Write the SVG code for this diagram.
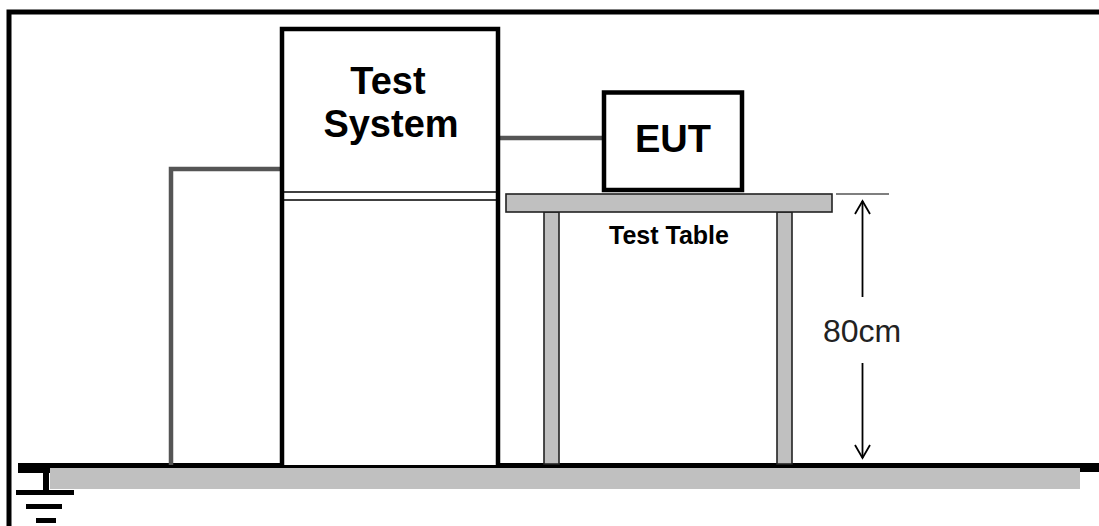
<svg xmlns="http://www.w3.org/2000/svg" width="1099" height="526" viewBox="0 0 1099 526">
<style>
.frame{fill:none;stroke:#000;stroke-width:5}
.box{fill:#fff;stroke:#000;stroke-width:4.5}
.wire{fill:none;stroke:#555;stroke-width:4.5}
.table{fill:#c0c0c0;stroke:#222;stroke-width:1.6}
.thin{fill:none;stroke:#000;stroke-width:1.5}
.arrow{fill:none;stroke:#000;stroke-width:1.8}
.big{font-family:"Liberation Sans",Arial,sans-serif;font-weight:bold;fill:#000;text-anchor:middle}
.dim{font-family:"Liberation Sans",Arial,sans-serif;fill:#222;text-anchor:middle}
</style>
<rect width="1099" height="526" fill="#fff"/>
<g id="frame">
<path class="frame" d="M9,526 V12 H1099"/>
</g>
<g id="ground">
<rect x="18" y="463" width="1081" height="9" fill="#000"/>
<rect x="18" y="463" width="32" height="10" fill="#000"/>
<rect x="50" y="468" width="1030" height="21" fill="#c0c0c0"/>
<rect x="43" y="464" width="6" height="28" fill="#000"/>
<rect x="16" y="490" width="58" height="5" fill="#000"/>
<rect x="26" y="504" width="36" height="5" fill="#000"/>
<rect x="36" y="518" width="20" height="5" fill="#000"/>
</g>
<g id="connectors">
<path class="wire" d="M171,465 V169 H282"/>
<path class="wire" d="M498,138 H604"/>
</g>
<g id="test-system">
<path class="box" d="M282,465 V29 H498 V465"/>
<line class="thin" x1="284" y1="192" x2="496" y2="192"/>
<line class="thin" x1="284" y1="200" x2="496" y2="200"/>
<text class="big" x="388" y="94" font-size="38">Test</text>
<text class="big" x="391" y="137" font-size="38">System</text>
</g>
<g id="test-table">
<rect class="table" x="544" y="212" width="15" height="252"/>
<rect class="table" x="777" y="212" width="15" height="252"/>
<rect class="table" x="506" y="194" width="326" height="18"/>
<text class="big" x="669" y="244" font-size="25">Test Table</text>
</g>
<g id="eut">
<rect class="box" x="604" y="92.5" width="138" height="97.5"/>
<text class="big" x="673" y="152" font-size="38">EUT</text>
</g>
<g id="dimension">
<line x1="836" y1="194" x2="889" y2="194" stroke="#000" stroke-width="1.2"/>
<line class="arrow" x1="862.5" y1="201" x2="862.5" y2="297"/>
<line class="arrow" x1="862.5" y1="363" x2="862.5" y2="458"/>
<polyline class="arrow" points="855,214 862.5,201 870,214"/>
<polyline class="arrow" points="855,445 862.5,458 870,445"/>
<text class="dim" x="862" y="342" font-size="32">80cm</text>
</g>
</svg>
